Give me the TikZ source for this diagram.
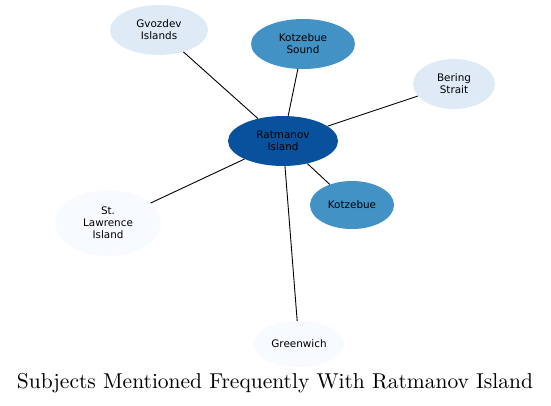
\documentclass[tikz,border=0pt]{standalone}
\usepackage{fontspec}
\newfontfamily\nodefont{DejaVu Sans}
\usetikzlibrary{shapes.geometric}
\definecolor{cA}{HTML}{F7FBFF}
\definecolor{cB}{HTML}{DEEBF7}
\definecolor{cC}{HTML}{4292C6}
\definecolor{cD}{HTML}{08519C}
\tikzset{
  topic/.style={ellipse, draw=none, inner sep=0pt, align=center, text=black,
    font=\nodefont\fontsize{10.4}{12}\selectfont},
  link/.style={draw=black, line width=0.9pt}
}
\begin{document}
\begin{tikzpicture}[x=1pt,y=-1pt]
\useasboundingbox (0,0) rectangle (551,405);
\node[topic, fill=cB, minimum width=98pt, minimum height=50pt] (gvo) at (159,30) {Gvozdev\\Islands};
\node[topic, fill=cC, minimum width=104pt, minimum height=50pt] (kso) at (303,44) {Kotzebue\\Sound};
\node[topic, fill=cB, minimum width=82pt, minimum height=50pt] (ber) at (454,84) {Bering\\Strait};
\node[topic, fill=cD, minimum width=110pt, minimum height=50pt] (rat) at (283,141) {Ratmanov\\Island};
\node[topic, fill=cC, minimum width=84pt, minimum height=48pt] (kot) at (352,205) {Kotzebue};
\node[topic, fill=cA, minimum width=106pt, minimum height=66pt] (stl) at (108,223) {St.\\Lawrence\\Island};
\node[topic, fill=cA, minimum width=90pt, minimum height=46pt] (gre) at (299,344) {Greenwich};
\draw[link] (rat) -- (gvo);
\draw[link] (rat) -- (kso);
\draw[link] (rat) -- (ber);
\draw[link] (rat) -- (kot);
\draw[link] (rat) -- (stl);
\draw[link] (rat) -- (gre);
\node[anchor=base, inner sep=0pt] (title) at (275,388) {\resizebox{516pt}{!}{Subjects Mentioned Frequently With Ratmanov Island}};
\end{tikzpicture}
\end{document}
